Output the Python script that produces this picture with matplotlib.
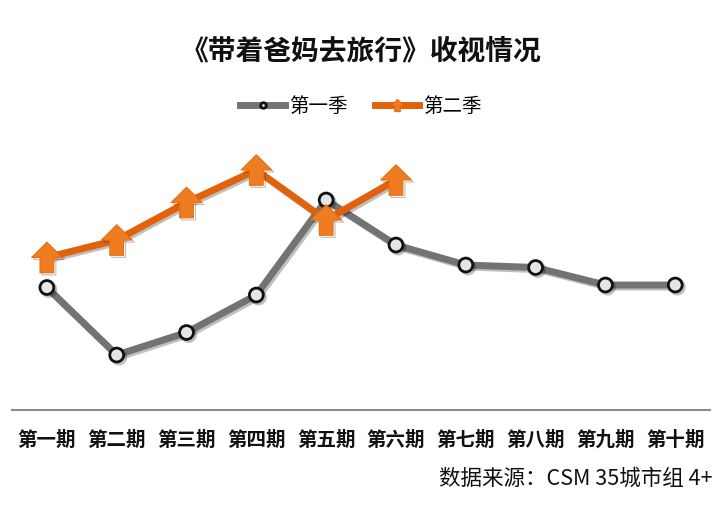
import matplotlib
matplotlib.use("Agg")
import matplotlib.pyplot as plt
from matplotlib.path import Path
import matplotlib.patheffects as pe

plt.rcParams['font.family'] = ['Noto Sans CJK SC', 'DejaVu Sans']

episodes = ['第一期', '第二期', '第三期', '第四期', '第五期', '第六期', '第七期', '第八期', '第九期', '第十期']
season1 = [0.49, 0.22, 0.31, 0.46, 0.84, 0.66, 0.58, 0.57, 0.50, 0.50]
season2 = [0.61, 0.68, 0.83, 0.96, 0.76, 0.92]
series_names = ['第一季', '第二季']
title = '《带着爸妈去旅行》收视情况'
source = '数据来源：CSM 35城市组 4+'

arrow = Path([(-1.0, 0.0), (0.0, 1.0), (1.0, 0.0), (0.45, 0.0), (0.45, -1.0),
              (-0.45, -1.0), (-0.45, 0.0), (-1.0, 0.0)],
             [Path.MOVETO] + [Path.LINETO] * 6 + [Path.CLOSEPOLY])

fig = plt.figure(figsize=(7.22, 5.26), dpi=100)
ax = fig.add_axes([0.0166, 0.2205, 0.967, 0.5133])

shadow = [pe.SimpleLineShadow(offset=(1.5, -1.5), shadow_color='#000000', alpha=0.25), pe.Normal()]

x1 = list(range(len(season1)))
x2 = list(range(len(season2)))
l1, = ax.plot(x1, season1, color='#737373', lw=5, marker='o', ms=10,
              markerfacecolor='#e6e6e6', markeredgecolor='#111111', markeredgewidth=2,
              label=series_names[0], zorder=3, path_effects=shadow)
l2, = ax.plot(x2, season2, color='#E2620B', lw=5, marker=arrow, ms=22,
              markerfacecolor='#F07C22', markeredgecolor='#E8700F', markeredgewidth=0.8,
              label=series_names[1], zorder=4, path_effects=shadow)

ax.set_xlim(-0.5, 9.5)
ax.set_ylim(0, 1.08)
ax.set_xticks(x1)
ax.set_xticklabels(episodes, fontsize=14, fontweight='bold', color='#111111')
ax.tick_params(axis='x', length=0, pad=15)
ax.set_yticks([])
for s in ['top', 'left', 'right']:
    ax.spines[s].set_visible(False)
ax.spines['bottom'].set_color('#8c8c8c')
ax.spines['bottom'].set_linewidth(1.5)

fig.text(0.5, 0.903, title, ha='center', va='center', fontsize=20, fontweight='bold', color='#111111')

leg = fig.legend(handles=[l1, l2], loc='center', bbox_to_anchor=(0.5, 0.797), ncol=2,
                 frameon=False, fontsize=14, handlelength=2.3, handletextpad=0.2,
                 columnspacing=1.4, markerscale=0.4)
for h in leg.legend_handles:
    h.set_path_effects([])

fig.text(0.987, 0.09, source, ha='right', va='center', fontsize=15.5, color='#111111')

fig.savefig('out.png', dpi=100)
